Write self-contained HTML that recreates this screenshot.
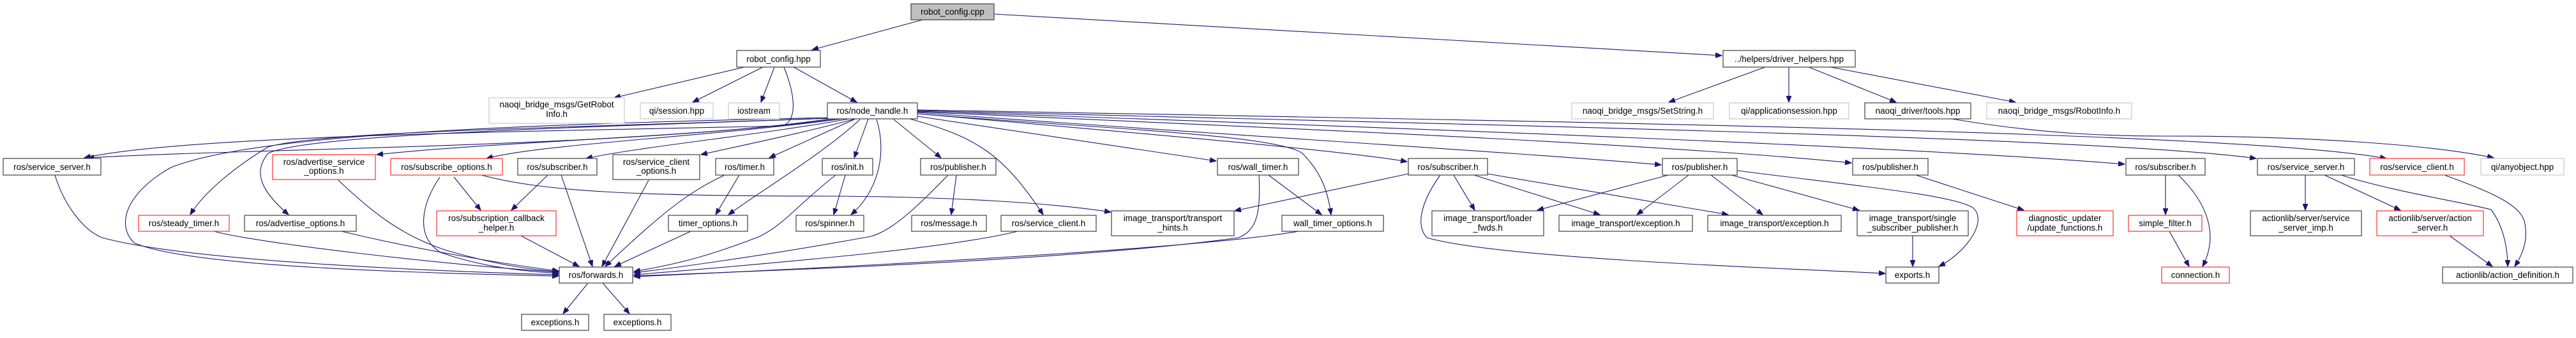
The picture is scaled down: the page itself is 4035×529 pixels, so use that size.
<!DOCTYPE html>
<html><head><meta charset="utf-8"><style>
html,body{margin:0;padding:0;background:#fff;}
svg{display:block;}
text{font-family:"Liberation Sans",sans-serif;font-size:13.5px;fill:#000;text-anchor:middle;}
.e{fill:none;stroke:#191970;stroke-width:1.1;marker-end:url(#a);}
.n{fill:#fff;stroke:#404040;stroke-width:1.2;}
.r{fill:#fff;stroke:#ff3030;stroke-width:1.2;}
.g{fill:#fff;stroke:#c8c8c8;stroke-width:1.2;}
</style></head><body>
<svg width="4035" height="529" viewBox="0 0 4035 529" xmlns="http://www.w3.org/2000/svg">
<defs><marker id="a" markerWidth="11" markerHeight="8" refX="10" refY="4" orient="auto" markerUnits="userSpaceOnUse"><path d="M0,0 L10,4 L0,8 z" fill="#191970" stroke="#191970"/></marker></defs>

<!-- edges -->
<path class="e" d="M1445,31 L1272,78"/>
<path class="e" d="M1557,22 L2697,87"/>
<path class="e" d="M1166,105 L962,153"/>
<path class="e" d="M1195,105 L1085,160"/>
<path class="e" d="M1213,105 L1192,160"/>
<path class="e" d="M1243,105 L1342,160"/>
<path class="e" d="M1228,105 C1250,160 1245,192 1225,197 C900,205 300,210 132,247"/>
<path class="e" d="M1300,186 C1000,230 400,232 137,247"/>
<path class="e" d="M1310,186 C1100,215 800,220 590,242"/>
<path class="e" d="M1320,186 C1100,215 850,225 762,248"/>
<path class="e" d="M1330,186 C1200,210 1000,230 918,248"/>
<path class="e" d="M1340,186 C1250,210 1150,230 1098,242"/>
<path class="e" d="M1340,186 L1205,247"/>
<path class="e" d="M1347,187 C1290,240 1190,300 1141,336"/>
<path class="e" d="M1360,186 L1338,247"/>
<path class="e" d="M1373,187 C1390,240 1375,300 1333,336"/>
<path class="e" d="M1400,187 L1474,247"/>
<path class="e" d="M1425,186 C1530,215 1570,240 1634,336"/>
<path class="e" d="M1437,182 L1905,252"/>
<path class="e" d="M1437,178 C1700,200 2000,210 2040,240 C2070,270 2080,300 2085,336"/>
<path class="e" d="M1437,178 C1800,210 2100,235 2204,253"/>
<path class="e" d="M1437,176 C1900,210 2400,240 2602,258"/>
<path class="e" d="M1437,175 C2000,200 2600,225 2900,255"/>
<path class="e" d="M1437,174 C2200,200 3000,230 3328,257"/>
<path class="e" d="M1437,173 C2300,195 3300,215 3534,248"/>
<path class="e" d="M1437,172 C2400,190 3500,205 3738,248"/>
<path class="e" d="M1300,185 C900,200 500,205 420,230 C370,260 320,300 298,336"/>
<path class="e" d="M1300,185 C900,200 480,210 420,240 C395,270 410,300 452,336"/>
<path class="e" d="M1300,184 C800,195 400,210 268,262 C200,300 180,350 210,380 C300,420 700,428 875,432"/>
<path class="e" d="M2206,272 L1934,330"/>
<path class="e" d="M754,274 C850,300 1000,307 1300,307 C1500,308 1650,318 1740,332"/>
<path class="e" d="M2765,105 L2614,160"/>
<path class="e" d="M2802,105 L2802,160"/>
<path class="e" d="M2833,105 L2970,160"/>
<path class="e" d="M2867,105 L3157,160"/>
<path class="e" d="M3057,186 C3200,210 3300,213 3400,213 C3600,213 3800,225 3906,247"/>
<path class="e" d="M86,274 C100,320 130,360 160,372 C300,410 700,425 875,430"/>
<path class="e" d="M529,281 C580,330 630,370 700,392 C780,415 830,422 875,425"/>
<path class="e" d="M335,362 C400,380 700,415 875,426"/>
<path class="e" d="M535,362 C650,390 800,415 875,424"/>
<path class="e" d="M711,277 L753,329"/>
<path class="e" d="M689,277 C660,320 650,370 690,395 C760,420 830,425 875,428"/>
<path class="e" d="M858,274 L801,329"/>
<path class="e" d="M879,274 L928,417"/>
<path class="e" d="M816,369 L907,417"/>
<path class="e" d="M1016,282 L943,417"/>
<path class="e" d="M1158,274 L1121,336"/>
<path class="e" d="M1135,274 C1080,300 1040,330 948,417"/>
<path class="e" d="M1082,362 L963,417"/>
<path class="e" d="M1324,274 L1306,336"/>
<path class="e" d="M1309,274 C1250,320 1230,350 1190,370 C1100,405 1050,415 993,425"/>
<path class="e" d="M1498,274 L1490,336"/>
<path class="e" d="M1485,274 C1440,320 1400,360 1364,370 C1200,400 1050,420 993,427"/>
<path class="e" d="M1594,362 C1500,385 1300,405 993,430"/>
<path class="e" d="M1987,274 L2070,336"/>
<path class="e" d="M1972,274 C1975,330 1970,360 1940,372 C1700,405 1300,420 993,432"/>
<path class="e" d="M2034,362 C1900,385 1500,410 993,433"/>
<path class="e" d="M921,443 L882,491"/>
<path class="e" d="M944,443 L986,491"/>
<path class="e" d="M2277,274 L2310,329"/>
<path class="e" d="M2309,274 L2506,336"/>
<path class="e" d="M2330,272 L2707,336"/>
<path class="e" d="M2256,274 C2230,310 2215,350 2235,372 C2350,405 2800,420 2953,428"/>
<path class="e" d="M2613,274 L2408,329"/>
<path class="e" d="M2645,274 L2564,336"/>
<path class="e" d="M2680,274 L2761,336"/>
<path class="e" d="M2712,274 L2912,329"/>
<path class="e" d="M2721,267 C2900,290 3060,305 3090,325 C3115,345 3080,395 3037,417"/>
<path class="e" d="M2996,369 L2996,417"/>
<path class="e" d="M3001,274 L3170,329"/>
<path class="e" d="M3392,274 L3392,336"/>
<path class="e" d="M3412,274 C3460,320 3475,370 3450,417"/>
<path class="e" d="M3398,362 L3429,417"/>
<path class="e" d="M3611,274 L3611,329"/>
<path class="e" d="M3641,274 L3760,329"/>
<path class="e" d="M3667,274 C3750,300 3850,315 3902,328 C3922,355 3928,390 3928,417"/>
<path class="e" d="M3837,369 L3904,417"/>
<path class="e" d="M3829,274 C3900,300 3950,320 3955,350 C3960,380 3950,400 3939,417"/>

<!-- nodes -->
<rect x="1427" y="6" width="130" height="25" fill="#bfbfbf" stroke="#404040" stroke-width="1.2"/><text x="1492" y="23">robot_config.cpp</text>
<rect class="n" x="1154" y="79" width="131" height="26"/><text x="1219.5" y="97">robot_config.hpp</text>
<rect class="n" x="2699" y="79" width="207" height="26"/><text x="2802.5" y="97">../helpers/driver_helpers.hpp</text>

<rect class="g" x="766" y="153" width="212" height="40"/><text x="872" y="168">naoqi_bridge_msgs/GetRobot</text><text x="872" y="183">Info.h</text>
<rect class="g" x="1003" y="161" width="114" height="25"/><text x="1060" y="178">qi/session.hpp</text>
<rect class="g" x="1141" y="161" width="80" height="25"/><text x="1181" y="178">iostream</text>
<rect class="n" x="1296" y="161" width="141" height="25"/><text x="1366.5" y="178">ros/node_handle.h</text>
<rect class="g" x="2462" y="161" width="222" height="25"/><text x="2573" y="178">naoqi_bridge_msgs/SetString.h</text>
<rect class="g" x="2709" y="161" width="187" height="25"/><text x="2802.5" y="178">qi/applicationsession.hpp</text>
<rect class="n" x="2921" y="161" width="166" height="25"/><text x="3004" y="178">naoqi_driver/tools.hpp</text>
<rect class="g" x="3112" y="161" width="227" height="25"/><text x="3225.5" y="178">naoqi_bridge_msgs/RobotInfo.h</text>

<rect class="n" x="5" y="248" width="153" height="26"/><text x="81.5" y="266">ros/service_server.h</text>
<rect class="r" x="427" y="242" width="161" height="39"/><text x="507.5" y="258">ros/advertise_service</text><text x="507.5" y="272">_options.h</text>
<rect class="r" x="612" y="248" width="175" height="26"/><text x="699.5" y="266">ros/subscribe_options.h</text>
<rect class="n" x="811" y="248" width="124" height="26"/><text x="873" y="266">ros/subscriber.h</text>
<rect class="n" x="960" y="242" width="136" height="39"/><text x="1028" y="258">ros/service_client</text><text x="1028" y="272">_options.h</text>
<rect class="n" x="1121" y="248" width="91" height="26"/><text x="1166.5" y="266">ros/timer.h</text>
<rect class="n" x="1288" y="248" width="79" height="26"/><text x="1327.5" y="266">ros/init.h</text>
<rect class="n" x="1442" y="248" width="118" height="26"/><text x="1501" y="266">ros/publisher.h</text>
<rect class="n" x="1907" y="248" width="127" height="26"/><text x="1970.5" y="266">ros/wall_timer.h</text>
<rect class="n" x="2206" y="248" width="124" height="26"/><text x="2268" y="266">ros/subscriber.h</text>
<rect class="n" x="2604" y="248" width="117" height="26"/><text x="2662.5" y="266">ros/publisher.h</text>
<rect class="n" x="2902" y="248" width="118" height="26"/><text x="2961" y="266">ros/publisher.h</text>
<rect class="n" x="3330" y="248" width="124" height="26"/><text x="3392" y="266">ros/subscriber.h</text>
<rect class="n" x="3536" y="248" width="152" height="26"/><text x="3612" y="266">ros/service_server.h</text>
<rect class="r" x="3712" y="248" width="148" height="26"/><text x="3786" y="266">ros/service_client.h</text>
<rect class="g" x="3886" y="248" width="130" height="26"/><text x="3951" y="266">qi/anyobject.hpp</text>

<rect class="r" x="217" y="337" width="142" height="25"/><text x="288" y="354">ros/steady_timer.h</text>
<rect class="n" x="383" y="337" width="175" height="25"/><text x="470.5" y="354">ros/advertise_options.h</text>
<rect class="r" x="684" y="330" width="187" height="39"/><text x="777.5" y="346">ros/subscription_callback</text><text x="777.5" y="361">_helper.h</text>
<rect class="n" x="1047" y="337" width="124" height="25"/><text x="1109" y="354">timer_options.h</text>
<rect class="n" x="1247" y="337" width="106" height="25"/><text x="1300" y="354">ros/spinner.h</text>
<rect class="n" x="1428" y="337" width="117" height="25"/><text x="1486.5" y="354">ros/message.h</text>
<rect class="n" x="1568" y="337" width="149" height="25"/><text x="1642.5" y="354">ros/service_client.h</text>
<rect class="n" x="1741" y="330" width="192" height="39"/><text x="1837" y="346">image_transport/transport</text><text x="1837" y="361">_hints.h</text>
<rect class="n" x="2008" y="337" width="159" height="25"/><text x="2087.5" y="354">wall_timer_options.h</text>
<rect class="n" x="2243" y="330" width="175" height="39"/><text x="2330.5" y="346">image_transport/loader</text><text x="2330.5" y="361">_fwds.h</text>
<rect class="n" x="2442" y="337" width="209" height="25"/><text x="2546.5" y="354">image_transport/exception.h</text>
<rect class="n" x="2675" y="337" width="209" height="25"/><text x="2779.5" y="354">image_transport/exception.h</text>
<rect class="n" x="2909" y="330" width="174" height="39"/><text x="2996" y="346">image_transport/single</text><text x="2996" y="361">_subscriber_publisher.h</text>
<rect class="r" x="3159" y="330" width="151" height="39"/><text x="3234.5" y="346">diagnostic_updater</text><text x="3234.5" y="361">/update_functions.h</text>
<rect class="r" x="3334" y="337" width="115" height="25"/><text x="3391.5" y="354">simple_filter.h</text>
<rect class="n" x="3525" y="330" width="174" height="39"/><text x="3612" y="346">actionlib/server/service</text><text x="3612" y="361">_server_imp.h</text>
<rect class="r" x="3723" y="330" width="167" height="39"/><text x="3806.5" y="346">actionlib/server/action</text><text x="3806.5" y="361">_server.h</text>

<rect class="n" x="876" y="418" width="115" height="25"/><text x="933.5" y="435">ros/forwards.h</text>
<rect class="n" x="2954" y="418" width="83" height="25"/><text x="2995.5" y="435">exports.h</text>
<rect class="r" x="3386" y="418" width="106" height="25"/><text x="3439" y="435">connection.h</text>
<rect class="n" x="3826" y="418" width="204" height="25"/><text x="3928" y="435">actionlib/action_definition.h</text>

<rect class="n" x="817" y="492" width="105" height="25"/><text x="869.5" y="509">exceptions.h</text>
<rect class="n" x="946" y="492" width="105" height="25"/><text x="998.5" y="509">exceptions.h</text>
</svg>
</body></html>
